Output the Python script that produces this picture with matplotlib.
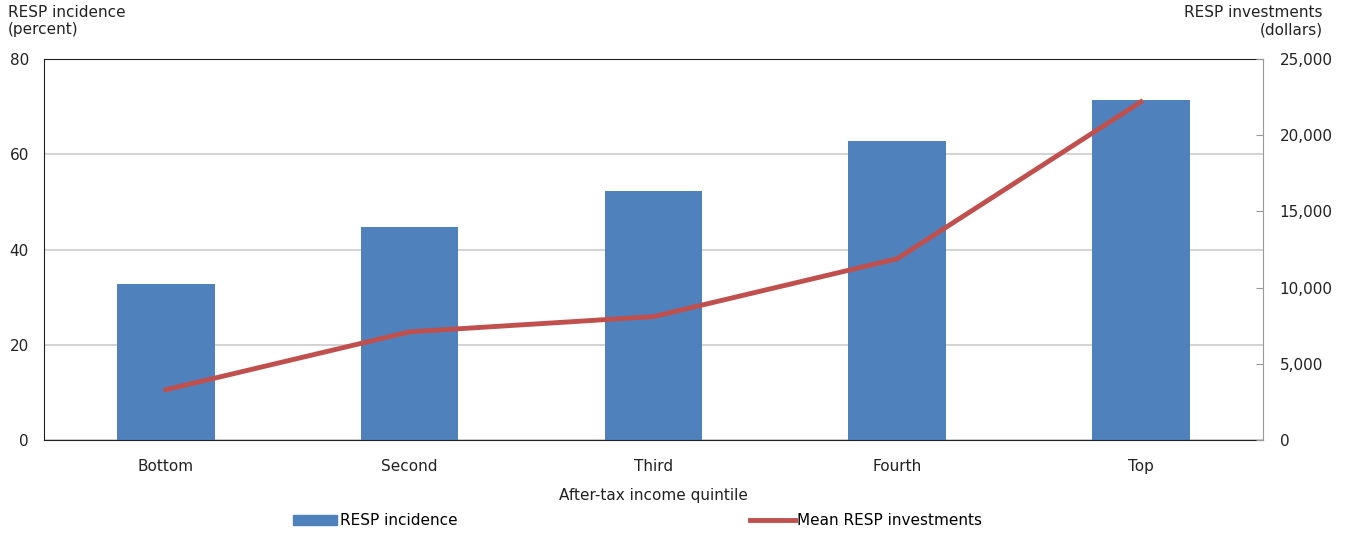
import matplotlib.pyplot as plt
from matplotlib.lines import Line2D
from matplotlib.patches import Patch

quintiles = ["Bottom", "Second", "Third", "Fourth", "Top"]
incidence = [32.8, 44.7, 52.3, 62.8, 71.4]          # percent
mean_invest = [3300, 7100, 8100, 11900, 22200]      # dollars

bar_color = "#4f81bd"
line_color = "#c0504d"
txt = "#222222"

plt.rcParams["font.family"] = ["DejaVu Sans"]
plt.rcParams["font.size"] = 11

fig = plt.figure(figsize=(13.55, 5.33), dpi=100)
ax = fig.add_axes([0.0325, 0.1745, 0.8995, 0.7145])
ax2 = ax.twinx()

x = range(len(quintiles))
ax.bar(x, incidence, width=0.4, color=bar_color, zorder=2)
ax.set_xlim(-0.5, 4.5)
ax.set_ylim(0, 80)
ax.set_yticks([0, 20, 40, 60, 80])
ax.grid(axis="y", color="#cccccc", linewidth=1.2, zorder=0)
ax.set_axisbelow(True)
ax.set_xticks(list(x))
ax.set_xticklabels(quintiles)
ax.tick_params(axis="x", length=0, pad=14, colors=txt)
ax.tick_params(axis="y", length=0, pad=11, colors=txt)
ax.set_xlabel("After-tax income quintile", color=txt, labelpad=10)

ax2.plot(x, mean_invest, color=line_color, linewidth=3.5, zorder=3)
ax2.set_ylim(0, 25000)
ax2.set_yticks(range(0, 25001, 5000))
ax2.set_yticklabels([f"{v:,}" for v in range(0, 25001, 5000)])
ax2.tick_params(axis="y", direction="in", length=5, color="#999999", pad=12, colors=txt)
ax2.tick_params(axis="y", color="#999999")

for s in ["top", "left", "bottom"]:
    ax.spines[s].set_color("#222222")
    ax2.spines[s].set_visible(False)
ax.spines["right"].set_visible(False)
ax2.spines["right"].set_color("#999999")

fig.text(0.006, 0.99, "RESP incidence\n(percent)", ha="left", va="top",
         color=txt, linespacing=1.15)
fig.text(0.976, 0.99, "RESP investments\n(dollars)", ha="right", va="top",
         color=txt, linespacing=1.15, multialignment="right")

fig.legend(handles=[Patch(color=bar_color)], labels=["RESP incidence"],
           loc="center left", bbox_to_anchor=(0.206, 0.023), frameon=False,
           handlelength=2.9, handleheight=0.7, handletextpad=0.2, fontsize=11)
fig.legend(handles=[Line2D([], [], color=line_color, linewidth=3.5)],
           labels=["Mean RESP investments"],
           loc="center left", bbox_to_anchor=(0.543, 0.023), frameon=False,
           handlelength=3.0, handletextpad=0.1, fontsize=11)

fig.savefig("out.png", dpi=100)
